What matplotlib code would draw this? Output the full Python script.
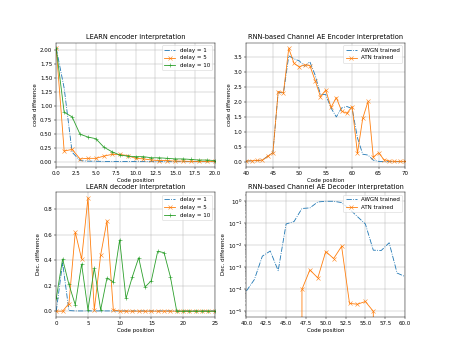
import numpy as np
import matplotlib
matplotlib.use("Agg")
import matplotlib.pyplot as plt

# ---- LEARN encoder (top left)
enc_pos = np.arange(0, 21)
enc_d1 = [2.02, 1.31, 0.17, 0.02, 0.01, 0.008, 0.005, 0.004, 0.003, 0.003, 0.002,
          0.002, 0.002, 0.001, 0.001, 0.001, 0.001, 0.001, 0.001, 0.001, 0.001]
enc_d5 = [2.02, 0.19, 0.22, 0.05, 0.06, 0.06, 0.10, 0.13, 0.13, 0.11, 0.06,
          0.05, 0.03, 0.02, 0.02, 0.01, 0.01, 0.005, 0.005, 0.005, 0.005]
enc_d10 = [2.02, 0.88, 0.80, 0.49, 0.44, 0.41, 0.26, 0.18, 0.12, 0.10, 0.09,
           0.09, 0.07, 0.07, 0.06, 0.05, 0.05, 0.04, 0.03, 0.03, 0.02]

# ---- RNN-based encoder (top right)
rnn_enc_pos = np.arange(40, 71)
rnn_enc_awgn = [0.02, 0.03, 0.04, 0.05, 0.18, 0.30, 2.33, 2.30, 3.55, 3.45, 3.38,
                3.20, 3.35, 2.90, 2.25, 2.25, 1.80, 1.50, 1.80, 1.85, 1.78,
                0.80, 0.25, 0.22, 0.05, 0.01, 0.0, 0.0, 0.0, 0.0, 0.0]
rnn_enc_atn = [0.02, 0.03, 0.04, 0.05, 0.18, 0.30, 2.35, 2.32, 3.80, 3.30, 3.18,
               3.25, 3.22, 2.72, 2.18, 2.40, 1.82, 2.15, 1.70, 1.62, 1.85,
               0.28, 1.45, 2.02, 0.15, 0.30, 0.07, 0.02, 0.01, 0.01, 0.01]

# ---- LEARN decoder (bottom left)
dec_pos = np.arange(0, 26)
dec_d1 = [0.0, 0.38, 0.005] + [0.002] * 23
dec_d5 = [0.0, 0.0, 0.06, 0.62, 0.41, 0.89, 0.01, 0.44, 0.71, 0.01] + [0.0] * 16
dec_d10 = [0.10, 0.41, 0.21, 0.05, 0.37, 0.01, 0.34, 0.01, 0.26, 0.23, 0.56,
           0.10, 0.27, 0.42, 0.19, 0.24, 0.47, 0.46, 0.27, 0.0] + [0.0] * 6

# ---- RNN-based decoder (bottom right)
rnn_dec_pos = np.arange(40, 61)
rnn_dec_awgn = [8.5e-5, 2.8e-4, 3.2e-3, 5.5e-3, 7e-4, 0.093, 0.12, 0.47, 0.5, 0.93,
                1.0, 1.0, 0.87, 0.44, 0.2, 0.093, 6e-3, 5.8e-3, 0.013, 5.5e-4, 3.8e-4]
rnn_dec_atn = [0, 0, 0, 0, 0, 0, 0, 1e-4, 7.6e-4, 3.3e-4, 5.2e-3, 2.5e-3, 9e-3,
               2.3e-5, 2.1e-5, 2.8e-5, 1e-5, 0, 0, 0, 0]

fig, axs = plt.subplots(2, 2, figsize=(11.25, 8.9), dpi=40)

ax = axs[0, 0]
ax.plot(enc_pos, enc_d1, '-.', label='delay = 1')
ax.plot(enc_pos, enc_d5, '-x', label='delay = 5')
ax.plot(enc_pos, enc_d10, '-+', label='delay = 10')
ax.set_xlim(0, 20)
ax.set_title('LEARN encoder interpretation')
ax.set_xlabel('Code position')
ax.set_ylabel('code difference')
ax.grid(True)
ax.legend(loc='upper right')

ax = axs[0, 1]
ax.plot(rnn_enc_pos, rnn_enc_awgn, '-.', label='AWGN trained')
ax.plot(rnn_enc_pos, rnn_enc_atn, '-x', label='ATN trained')
ax.set_xlim(40, 70)
ax.set_title('RNN-based Channel AE Encoder interpretation')
ax.set_xlabel('Code position')
ax.set_ylabel('code difference')
ax.grid(True)
ax.legend(loc='upper right')

ax = axs[1, 0]
ax.plot(dec_pos, dec_d1, '-.', label='delay = 1')
ax.plot(dec_pos, dec_d5, '-x', label='delay = 5')
ax.plot(dec_pos, dec_d10, '-+', label='delay = 10')
ax.set_xlim(0, 25)
ax.set_title('LEARN decoder interpretation')
ax.set_xlabel('Code position')
ax.set_ylabel('Dec. difference')
ax.grid(True)
ax.legend(loc='upper right')

ax = axs[1, 1]
ax.plot(rnn_dec_pos, rnn_dec_awgn, '-.', label='AWGN trained')
ax.plot(rnn_dec_pos, rnn_dec_atn, '-x', label='ATN trained')
ax.set_yscale('log')
ax.set_xlim(40, 60)
ax.set_ylim(10 ** -5.25, 10 ** 0.41)
ax.set_title('RNN-based Channel AE Decoder interpretation')
ax.set_xlabel('Code position')
ax.set_ylabel('Dec. difference')
ax.grid(True)
ax.legend(loc='upper right')

plt.savefig('out.png', dpi=40)
